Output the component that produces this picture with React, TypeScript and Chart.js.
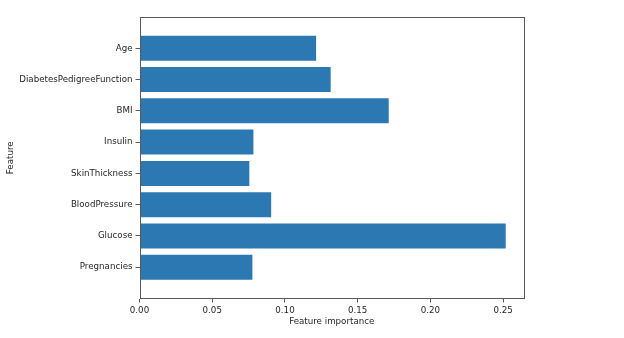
import React, { useEffect, useRef } from "react";
import { Chart, registerables } from "chart.js";

Chart.register(...registerables);

const features = [
  "Pregnancies",
  "Glucose",
  "BloodPressure",
  "SkinThickness",
  "Insulin",
  "BMI",
  "DiabetesPedigreeFunction",
  "Age",
];
const importances = [0.0776, 0.2517, 0.0905, 0.0755, 0.0783, 0.1713, 0.1314, 0.1214];
const xTicks = [0, 0.05, 0.1, 0.15, 0.2, 0.25];
const xLabel = "Feature importance";
const yLabel = "Feature";

const FONT = "'DejaVu Sans', sans-serif";
const FS = 8.7;
const TEXT = "#262626";
const SPINE = "#5a5a5a";

const boxPlugin = {
  id: "box",
  afterDraw(chart: any) {
    const { ctx, chartArea } = chart;
    ctx.save();
    ctx.strokeStyle = SPINE;
    ctx.lineWidth = 1;
    ctx.strokeRect(
      Math.round(chartArea.left) + 0.5,
      Math.round(chartArea.top) + 0.5,
      Math.round(chartArea.right - chartArea.left) - 1,
      Math.round(chartArea.bottom - chartArea.top) - 1
    );
    ctx.restore();
  },
};

export default function App() {
  const ref = useRef<HTMLCanvasElement | null>(null);
  useEffect(() => {
    const maxV = Math.max(...importances);
    const chart = new Chart(ref.current!, {
      type: "bar",
      data: {
        datasets: [
          {
            data: importances.map((v, i) => ({ x: v, y: i })),
            backgroundColor: "#2b78b2",
            borderWidth: 0,
            barPercentage: 0.8,
            categoryPercentage: 1,
          },
        ],
      },
      plugins: [boxPlugin],
      options: {
        indexAxis: "y",
        animation: false,
        responsive: false,
        maintainAspectRatio: false,
        events: [],
        layout: { padding: { top: 17, right: 100, left: 0, bottom: 0 } },
        plugins: { legend: { display: false }, tooltip: { enabled: false } },
        scales: {
          x: {
            type: "linear",
            min: 0,
            max: maxV * 1.05,
            offset: false,
            afterFit: (s: any) => {
              s.height = 39.5;
            },
            afterBuildTicks: (s: any) => {
              s.ticks = xTicks.map((v) => ({ value: v }));
            },
            border: { display: false },
            grid: {
              offset: false,
              drawOnChartArea: false,
              drawTicks: true,
              tickLength: 4,
              tickColor: SPINE,
            },
            ticks: {
              padding: 3,
              color: TEXT,
              font: { family: FONT, size: FS },
              maxRotation: 0,
              callback: (v: any) => Number(v).toFixed(2),
            },
            title: {
              display: true,
              text: xLabel,
              color: TEXT,
              font: { family: FONT, size: FS },
              padding: { top: 0, bottom: 11 },
            },
          },
          y: {
            type: "linear",
            min: -1,
            max: features.length,
            offset: false,
            afterFit: (s: any) => {
              s.width = 139.5;
            },
            afterBuildTicks: (s: any) => {
              s.ticks = features.map((_, i) => ({ value: i }));
            },
            border: { display: false },
            grid: {
              offset: false,
              drawOnChartArea: false,
              drawTicks: true,
              tickLength: 4,
              tickColor: SPINE,
            },
            ticks: {
              padding: 3,
              color: TEXT,
              font: { family: FONT, size: FS },
              callback: (v: any) => features[Number(v)] ?? "",
            },
            title: {
              display: true,
              text: yLabel,
              color: TEXT,
              font: { family: FONT, size: FS },
              padding: { top: 6, bottom: 0 },
            },
          },
        },
      },
    } as any);
    return () => chart.destroy();
  }, []);
  return (
    <div style={{ position: "fixed", left: 0, top: 0, width: 624, height: 338, background: "#fff" }}>
      <canvas ref={ref} width={624} height={338} style={{ width: 624, height: 338, display: "block" }} />
    </div>
  );
}
